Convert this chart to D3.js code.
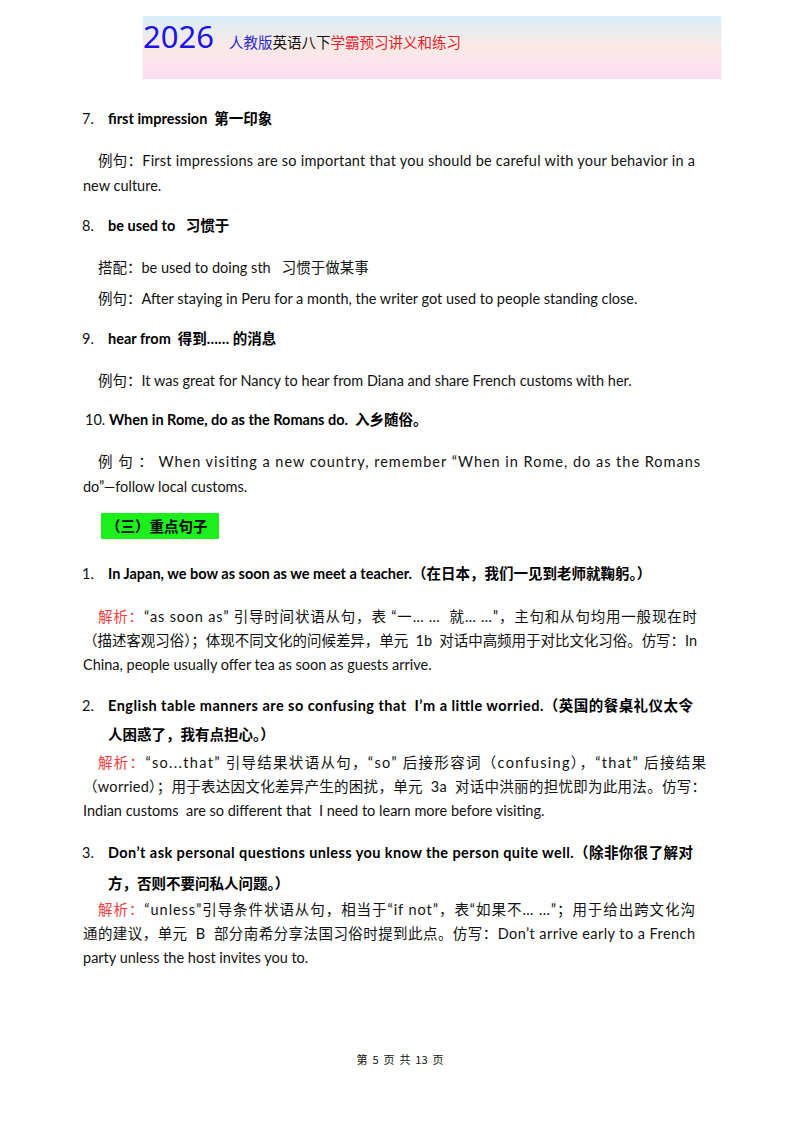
<!DOCTYPE html>
<html><head><meta charset="utf-8">
<script src="https://cdn.jsdelivr.net/npm/d3@7"></script>
<style>body{margin:0;background:#fff}svg{display:block}text{white-space:pre}</style>
</head><body>
<svg id="page" width="800" height="1132"></svg>
<script>
// each line: [kind, runs]; runs are [text, style]
const lines = [
  ["num", [["7.", "n"], ["first impression  第一印象", "b"]]],
  ["ex", [["例句：First impressions are so important that you should be careful with your behavior in a", "n"]]],
  ["cont", [["new culture.", "n"]]],
  ["num", [["8.", "n"], ["be used to   习惯于", "b"]]],
  ["ex", [["搭配：be used to doing sth   习惯于做某事", "n"]]],
  ["ex", [["例句：After staying in Peru for a month, the writer got used to people standing close.", "n"]]],
  ["num", [["9.", "n"], ["hear from  得到…… 的消息", "b"]]],
  ["ex", [["例句：It was great for Nancy to hear from Diana and share French customs with her.", "n"]]],
  ["num10", [["10. ", "n"], ["When in Rome, do as the Romans do.  入乡随俗。", "b"]]],
  ["ex", [["例 句 ： When visiting a new country, remember “When in Rome, do as the Romans", "n"]]],
  ["cont", [["do”—follow local customs.", "n"]]],
  ["section", [["（三）重点句子", "b"]]],
  ["num", [["1.", "n"], ["In Japan, we bow as soon as we meet a teacher.", "b"], ["（在日本，我们一见到老师就鞠躬。）", "b"]]],
  ["ex", [["解析：", "r"], ["“as soon as” 引导时间状语从句，表 “一… …  就… …”，主句和从句均用一般现在时", "n"]]],
  ["cont", [["（描述客观习俗）；体现不同文化的问候差异，单元  1b  对话中高频用于对比文化习俗。仿写：In", "n"]]],
  ["cont", [["China, people usually offer tea as soon as guests arrive.", "n"]]],
  ["num", [["2.", "n"], ["English table manners are so confusing that  I’m a little worried.（英国的餐桌礼仪太令", "b"]]],
  ["wrap", [["人困惑了，我有点担心。）", "b"]]],
  ["ex", [["解析：", "r"], ["“so...that” 引导结果状语从句，“so” 后接形容词（confusing），“that” 后接结果", "n"]]],
  ["cont", [["（worried）；用于表达因文化差异产生的困扰，单元  3a  对话中洪丽的担忧即为此用法。仿写：", "n"]]],
  ["cont", [["Indian customs  are so different that  I need to learn more before visiting.", "n"]]],
  ["num", [["3.", "n"], ["Don’t ask personal questions unless you know the person quite well.（除非你很了解对", "b"]]],
  ["wrap", [["方，否则不要问私人问题。）", "b"]]],
  ["ex", [["解析：", "r"], ["“unless”引导条件状语从句，相当于“if not”，表“如果不… …”；用于给出跨文化沟", "n"]]],
  ["cont", [["通的建议，单元  B  部分南希分享法国习俗时提到此点。仿写：Don’t arrive early to a French", "n"]]],
  ["cont", [["party unless the host invites you to.", "n"]]]
];
const baselines = [124,166,191,231,273,304,344,386,425,467,492,537,579,622,646,670,711,740,768,792,816,858,889,915,939,963];
const justifyEnd = [0,695,0,0,0,0,0,0,0,700,0,0,0,697,697,0,693,0,706,706,0,693,0,695,695,0];

const svg = d3.select("#page");
const font = "Lato, 'Noto Sans CJK SC', sans-serif";

// header band
const defs = svg.append("defs");
const grad = defs.append("linearGradient").attr("id", "hg").attr("x1", 0).attr("y1", 0).attr("x2", 0).attr("y2", 1);
[["0%", "#d8eef8"], ["50%", "#fbe9e4"], ["100%", "#fbdcf3"]].forEach(([o, c]) =>
  grad.append("stop").attr("offset", o).attr("stop-color", c));
svg.append("rect").attr("x", 143).attr("y", 16).attr("width", 578).attr("height", 63).attr("fill", "url(#hg)");
svg.append("text").attr("x", 143).attr("y", 48).attr("font-family", "'Noto Sans', sans-serif")
  .attr("font-size", 31).attr("fill", "#1a14e6").text("2026");
const ht = svg.append("text").attr("x", 229).attr("y", 48).attr("font-family", "'Noto Sans CJK SC', sans-serif").attr("font-size", 14.5);
[["人教版", "#2a2ad0"], ["英语八下", "#111"], ["学霸预习讲义和练习", "#e8202a"]].forEach(([t, c]) =>
  ht.append("tspan").attr("fill", c).text(t));

const xStart = { num: 108, ex: 98, cont: 83, num10: 85, section: 106, wrap: 108 };
const colour = { n: "#111", b: "#000", r: "#f03c3c" };

lines.forEach(([kind, runs], i) => {
  const y = baselines[i];
  if (kind === "section") {
    svg.append("rect").attr("x", 101).attr("y", 513).attr("width", 118).attr("height", 26).attr("fill", "#1cf01c");
  }
  let body = runs;
  if (kind === "num") {
    svg.append("text").attr("x", 82).attr("y", y).attr("font-family", font).attr("font-size", 14.5)
      .attr("fill", "#111").text(runs[0][0]);
    body = runs.slice(1);
  }
  const t = svg.append("text").attr("x", xStart[kind]).attr("y", kind === "section" ? 532 : y)
    .attr("font-family", font).attr("font-size", 14.5);
  body.forEach(([s, st]) => t.append("tspan").attr("fill", colour[st])
    .attr("font-weight", st === "b" ? "bold" : null).text(s));
  if (justifyEnd[i]) {
    t.attr("textLength", justifyEnd[i] - xStart[kind]).attr("lengthAdjust", "spacing");
  }
});

svg.append("text").attr("x", 400).attr("y", 1064).attr("text-anchor", "middle")
  .attr("font-family", "'Noto Sans CJK SC', sans-serif").attr("font-size", 11).attr("fill", "#111")
  .text("第  5  页  共  13  页");
</script>
</body></html>
